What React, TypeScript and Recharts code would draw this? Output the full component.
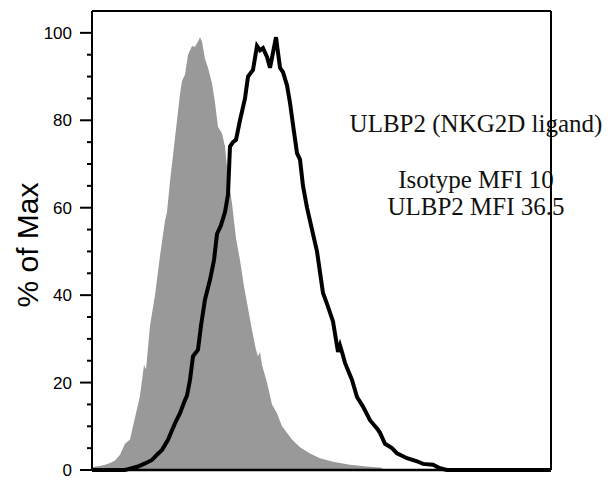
import React from 'react';
import {
    ComposedChart,
    Area,
    Line,
    XAxis,
    YAxis,
    ReferenceLine,
    Customized
} from 'recharts';

// isotype control: channel (arbitrary linear units 0..459) and % of max (grey fill)
const isoChannels = [
    0, 3, 8, 13, 18, 23, 28, 33, 38, 43, 48, 52, 54, 58, 63, 68, 73, 75, 78, 81, 83, 88, 90, 93, 96, 100,
    103, 106, 108, 110, 113, 116, 120, 123, 126, 130, 133, 136, 140, 144, 148, 152, 156, 160, 164, 166,
    168, 170, 175, 180, 185, 190, 195, 200, 208, 218, 228, 241, 258, 275, 290, 291
];
const isotype = [
    0.5, 0.8, 0.9, 1.2, 1.6, 2.2, 3.5, 6, 7, 12, 17, 24, 23, 33, 40, 49, 57, 59, 66, 72, 76, 86, 89, 90.5,
    95, 97, 96.8, 98, 99, 98, 94, 92, 88.5, 84, 78.5, 77, 74, 67, 61, 53, 48, 42, 37, 32, 27.5, 26, 27, 24,
    20, 15, 13, 10, 8.5, 7, 5.2, 3.8, 2.7, 1.9, 1.2, 0.8, 0.5, 0
];

// ULBP2 stained: channel and % of max (black line)
const ulbpChannels = [
    0, 33, 38, 46, 53, 60, 65, 70, 76, 83, 88, 93, 95, 98, 101, 106, 109, 113, 118, 122, 125, 129, 133,
    136, 138, 141, 144, 148, 153, 156, 161, 165, 168, 171, 175, 178, 181, 184, 188, 191, 195, 198, 201,
    205, 208, 211, 215, 221, 225, 231, 235, 241, 246, 248, 250, 253, 260, 265, 271, 278, 286, 288, 293,
    300, 305, 315, 325, 331, 341, 348, 355, 459
];
const ulbp2 = [
    0, 0, 0.3, 0.8, 1.5, 2.3, 3.5, 4.6, 6.9, 10.7, 13, 16, 17, 20.6, 26, 27.5, 33, 39, 43.5, 48, 54, 56,
    59, 63, 74, 75, 75.5, 80, 85, 90, 91.5, 97, 96, 96.5, 94.5, 92, 95.5, 99, 92, 91, 88, 84, 79, 72.5, 71,
    65, 60, 54, 50, 40.5, 38, 34, 27, 28.5, 27, 24.5, 20.6, 16.7, 14.5, 11.4, 9.2, 8.5, 6, 5, 3.8, 2.7,
    2, 1.4, 1.2, 0.4, 0, 0
];

const yMajor = [0, 20, 40, 60, 80, 100];
const yMinor = [5, 10, 15, 25, 30, 35, 45, 50, 55, 65, 70, 75, 85, 90, 95];

const notes = ['ULBP2 (NKG2D ligand)', 'Isotype MFI 10', 'ULBP2 MFI 36.5'];

const isoData = isoChannels.map((c, i) => ({ ch: c, iso: isotype[i] }));
const ulbpData = ulbpChannels.map((c, i) => ({ ch: c, ulbp: ulbp2[i] }));

const Notes = () => (
    <g>
        <g textAnchor="middle" fill="#111"
            style={{ fontSize: 25, fontFamily: "'Liberation Serif', 'Times New Roman', serif" }}>
            <text x={476} y={132}>{notes[0]}</text>
            <text x={476} y={188}>{notes[1]}</text>
            <text x={476} y={215}>{notes[2]}</text>
        </g>
        <text x={38} y={245} textAnchor="middle" fill="#000" transform="rotate(-90 38 245)"
            style={{ fontSize: 30, fontFamily: "'Liberation Sans', Arial, sans-serif" }}>% of Max</text>
    </g>
);

export default function App() {
    return (
        <div style={{ position: 'absolute', left: 0, top: 0, width: 615, height: 482, background: '#fff' }}>
            <ComposedChart width={615} height={482} margin={{ top: 11, right: 64, bottom: 0, left: 0 }}>
                <Customized component={Notes} />
                <XAxis dataKey="ch" type="number" domain={[0, 459]} tick={false} tickLine={false}
                    allowDuplicatedCategory={false}
                    axisLine={{ stroke: '#000', strokeWidth: 2.5 }} height={12} />
                <YAxis type="number" domain={[0, 105]} ticks={yMajor} interval={0} width={92}
                    tick={{ fontSize: 17, fill: '#000', fontFamily: "'Liberation Sans', Arial, sans-serif" }}
                    tickLine={{ stroke: '#000', strokeWidth: 2 }} tickSize={12} tickMargin={8}
                    axisLine={{ stroke: '#000', strokeWidth: 2 }} />
                {yMinor.map(v => (
                    <ReferenceLine key={v} segment={[{ x: -5, y: v }, { x: 0, y: v }]} ifOverflow="visible"
                        stroke="#000" strokeWidth={2} />
                ))}
                <Area data={isoData} dataKey="iso" type="linear" fill="#999999" fillOpacity={1} stroke="none"
                    isAnimationActive={false} dot={false} activeDot={false} />
                <Line data={ulbpData} dataKey="ulbp" type="linear" stroke="#000" strokeWidth={4} dot={false}
                    activeDot={false} isAnimationActive={false} />
                <ReferenceLine y={105} stroke="#000" strokeWidth={2} />
                <ReferenceLine x={459} stroke="#000" strokeWidth={2} />
            </ComposedChart>
        </div>
    );
}
